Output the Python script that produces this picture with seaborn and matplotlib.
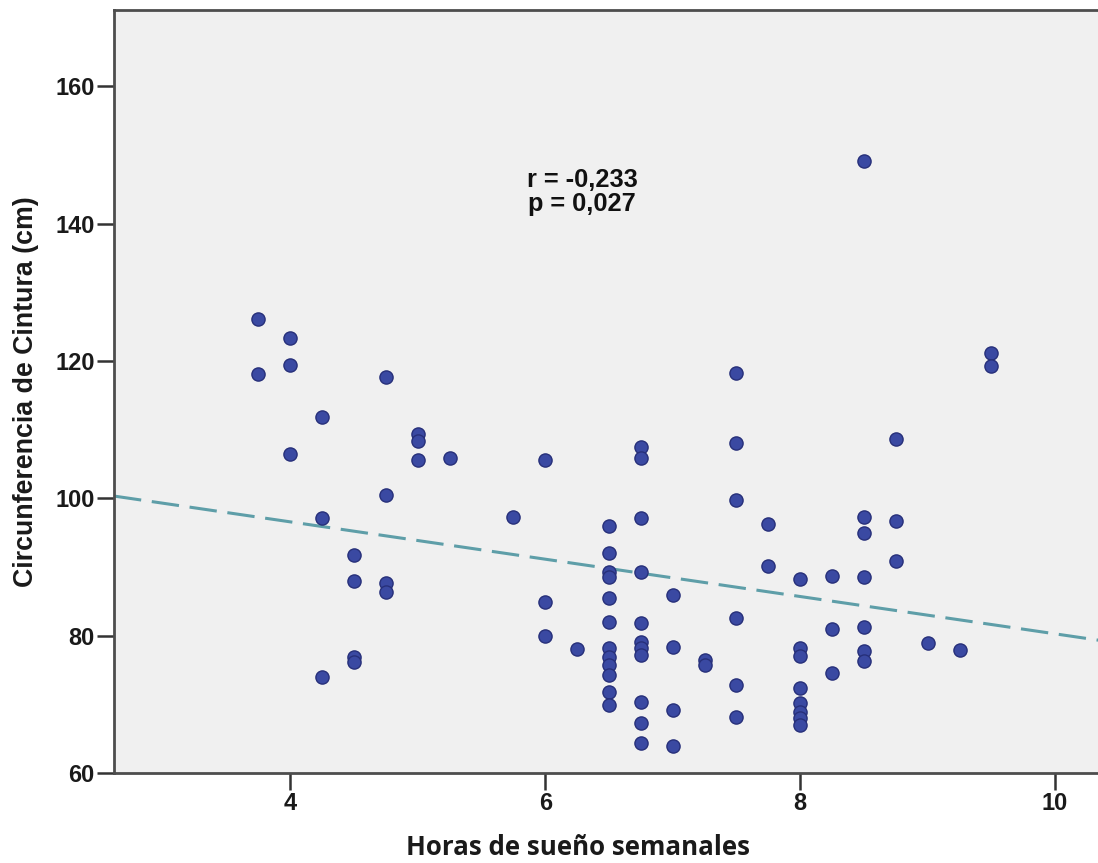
import matplotlib
matplotlib.use("Agg")
import matplotlib.pyplot as plt
from matplotlib import font_manager as fm
import seaborn as sns
import pandas as pd

# ---- data ----
horas = [3.75, 3.75,
         4.0, 4.0, 4.0,
         4.25, 4.25, 4.25,
         4.5, 4.5, 4.5, 4.5,
         4.75, 4.75, 4.75, 4.75,
         5.0, 5.0, 5.0,
         5.25,
         5.75,
         6.0, 6.0, 6.0,
         6.25,
         6.5, 6.5, 6.5, 6.5, 6.5, 6.5, 6.5, 6.5, 6.5, 6.5, 6.5, 6.5,
         6.75, 6.75, 6.75, 6.75, 6.75, 6.75, 6.75, 6.75, 6.75, 6.75, 6.75,
         7.0, 7.0, 7.0, 7.0,
         7.25, 7.25,
         7.5, 7.5, 7.5, 7.5, 7.5, 7.5,
         7.75, 7.75,
         8.0, 8.0, 8.0, 8.0, 8.0, 8.0, 8.0, 8.0,
         8.25, 8.25, 8.25,
         8.5, 8.5, 8.5, 8.5, 8.5, 8.5, 8.5,
         8.75, 8.75, 8.75,
         9.0,
         9.25,
         9.5, 9.5]
cintura = [126.1, 118.1,
           123.4, 119.4, 106.4,
           111.9, 97.2, 74.0,
           91.7, 88.0, 76.9, 76.2,
           117.6, 100.5, 87.7, 86.4,
           109.3, 108.3, 105.6,
           105.8,
           97.3,
           105.6, 84.9, 80.0,
           78.1,
           96.0, 92.1, 89.3, 88.6, 85.5, 82.0, 78.2, 76.9, 75.7, 74.3, 71.8, 69.9,
           107.4, 105.9, 97.2, 89.2, 81.9, 79.1, 78.2, 77.2, 70.3, 67.3, 64.4,
           85.9, 78.4, 69.2, 63.9,
           76.5, 75.7,
           118.2, 108.1, 99.8, 82.6, 72.8, 68.2,
           96.3, 90.1,
           88.2, 78.2, 77.0, 72.4, 70.2, 68.9, 68.0, 67.0,
           88.7, 80.9, 74.5,
           149.1, 97.3, 95.0, 88.6, 81.3, 77.8, 76.3,
           108.7, 96.7, 90.8,
           79.0,
           77.9,
           121.1, 119.2]
x_ticks = [4, 6, 8, 10]
y_ticks = [60, 80, 100, 120, 140, 160]
x_label = "Horas de sueño semanales"
y_label = "Circunferencia de Cintura (cm)"
stats_text = "r = -0,233\np = 0,027"

df = pd.DataFrame({"horas": horas, "cintura": cintura})

sns.set_style("ticks")
plt.rcParams["font.family"] = ["Liberation Sans", "DejaVu Sans"]


def fp(family, size):
    return fm.FontProperties(family=[family, "DejaVu Sans"], weight="bold", size=size)


fig = plt.figure(figsize=(10.98, 8.63), dpi=100)
ax = fig.add_axes([0.1038, 0.1043, 0.8962 + 0.001, 0.8841])
ax.set_facecolor("#f0f0f0")

ax.set_xlim(2.617, 10.345)
ax.set_ylim(60, 171.1)

sns.regplot(data=df, x="horas", y="cintura", ax=ax, ci=None, scatter=False,
            truncate=False,
            line_kws=dict(color="#5e9ea8", lw=2.2, dashes=(9, 3.5)))
sns.scatterplot(data=df, x="horas", y="cintura", ax=ax, s=90,
                color="#3a49a2", edgecolor="#27307a", linewidth=1.0, zorder=3)

ax.set_xlim(2.617, 10.345)
ax.set_ylim(60, 171.1)
ax.set_xticks(x_ticks)
ax.set_yticks(y_ticks)
ax.set_xticklabels([str(t) for t in x_ticks])
ax.set_yticklabels([str(t) for t in y_ticks])

for side in ["left", "bottom", "top"]:
    ax.spines[side].set_color("#4d4d4d")
    ax.spines[side].set_linewidth(2.0)
    ax.spines[side].set_visible(True)
ax.spines["right"].set_visible(False)

ax.tick_params(axis="both", direction="out", length=12, width=1.8,
               color="#333333", pad=2)
for lab in ax.get_xticklabels() + ax.get_yticklabels():
    lab.set_fontproperties(fp("Liberation Sans", 17))
    lab.set_color("#1a1a1a")

ax.set_xlabel("")
ax.set_ylabel("")
fig.text(0.5265, 0.0174, x_label, ha="center", va="center",
         fontproperties=fp("Open Sans", 18.6), color="#1a1a1a")
fig.text(0.0237, 0.546, y_label, ha="center", va="center", rotation=90,
         fontproperties=fp("Liberation Sans", 19.3), color="#1a1a1a")

ax.text(6.29, 144.6, stats_text, ha="center", va="center",
        fontproperties=fp("Liberation Sans", 18.3), linespacing=1.0,
        color="#111111")

fig.savefig("out.png", dpi=100, facecolor="white")
